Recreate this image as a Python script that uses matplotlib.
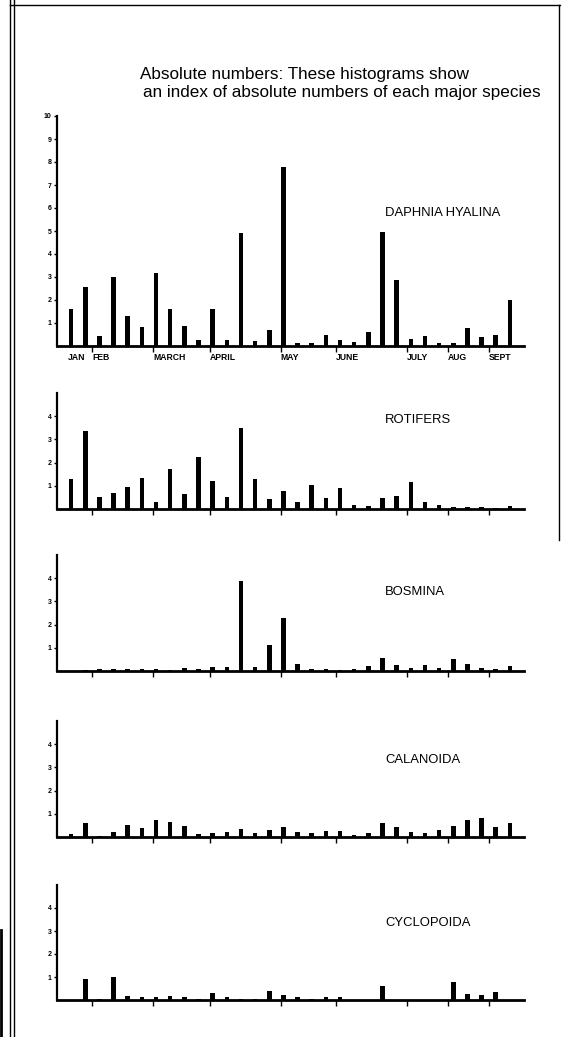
import numpy as np
import matplotlib.pyplot as plt
import matplotlib.transforms as mtransforms
from matplotlib.lines import Line2D

plt.rcParams['font.family'] = ['Liberation Sans', 'DejaVu Sans']

# Data: index of absolute numbers, one value per sampling date (32 samples Jan-Sept)
daphnia = [1.61, 2.58, 0.43, 3.0, 1.31, 0.81, 3.17, 1.6, 0.85, 0.27, 1.6, 0.27, 4.92, 0.23, 0.68, 7.8,
           0.13, 0.14, 0.49, 0.27, 0.17, 0.6, 4.95, 2.86, 0.3, 0.42, 0.13, 0.12, 0.78, 0.39, 0.49, 2.01]
rotifers = [1.31, 3.35, 0.5, 0.69, 0.96, 1.34, 0.32, 1.72, 0.66, 2.22, 1.22, 0.53, 3.5, 1.28, 0.43, 0.79,
            0.31, 1.03, 0.49, 0.9, 0.16, 0.15, 0.49, 0.56, 1.15, 0.3, 0.16, 0.09, 0.07, 0.07, 0.03, 0.15]
bosmina = [0.0, 0.05, 0.1, 0.1, 0.08, 0.1, 0.1, 0.05, 0.13, 0.1, 0.17, 0.17, 3.89, 0.19, 1.11, 2.27,
           0.29, 0.1, 0.1, 0.06, 0.1, 0.2, 0.55, 0.25, 0.15, 0.25, 0.12, 0.5, 0.32, 0.15, 0.1, 0.2]
calanoida = [0.14, 0.6, 0.03, 0.23, 0.52, 0.39, 0.72, 0.64, 0.49, 0.14, 0.17, 0.2, 0.33, 0.17, 0.32, 0.43,
             0.2, 0.17, 0.26, 0.28, 0.1, 0.17, 0.62, 0.43, 0.22, 0.17, 0.32, 0.46, 0.72, 0.84, 0.41, 0.61]
cyclopoida = [0.0, 0.93, 0.03, 0.99, 0.19, 0.12, 0.15, 0.19, 0.15, 0.03, 0.32, 0.12, 0.03, 0.03, 0.38, 0.2,
              0.15, 0.03, 0.12, 0.15, 0.0, 0.0, 0.59, 0.0, 0.0, 0.0, 0.0, 0.78, 0.26, 0.22, 0.34, 0.0]
species = ['DAPHNIA HYALINA', 'ROTIFERS', 'BOSMINA', 'CALANOIDA', 'CYCLOPOIDA']

months = ['JAN', 'FEB', 'MARCH', 'APRIL', 'MAY', 'JUNE', 'JULY', 'AUG', 'SEPT']
month_starts = [1.5, 5.8, 9.8, 14.8, 18.7, 23.7, 26.6, 29.5]   # tick positions, FEB..SEPT
jan_label = -0.2

series = [daphnia, rotifers, bosmina, calanoida, cyclopoida]
x = np.arange(len(daphnia))

W, H = 562, 1037
fig = plt.figure(figsize=(W / 100, H / 100), dpi=100)

# panel placement in pixels: (top, bottom)
panels = [(116, 346), (393, 509), (555, 671), (721, 837), (885, 1000)]
name_rows = [213, 420, 592, 760, 923]
left_px, right_px = 57, 524

for i, (vals, name, (top, bot)) in enumerate(zip(series, species, panels)):
    ax = fig.add_axes([left_px / W, 1 - bot / H, (right_px - left_px) / W, (bot - top) / H])
    ax.bar(x, vals, width=0.32, color='black')
    ymax = 10 if i == 0 else 5
    ax.set_ylim(0, ymax)
    ax.set_xlim(-1, 32)
    ax.set_yticks(range(1, 11) if i == 0 else range(1, 5))
    ax.tick_params(axis='y', direction='out', length=2, width=1, pad=2, labelsize=5)
    for lab in ax.get_yticklabels():
        lab.set_fontweight('bold')
    ax.set_xticks(month_starts)
    ax.set_xticklabels([])
    ax.tick_params(axis='x', direction='out', length=4, width=1)
    for s in ['top', 'right']:
        ax.spines[s].set_visible(False)
    ax.spines['left'].set_linewidth(1.6)
    ax.spines['bottom'].set_linewidth(2.0)

    # species name
    fig.text(385 / W, 1 - name_rows[i] / H, name, fontsize=9.4, ha='left', va='center')

    if i == 0:
        trans = mtransforms.blended_transform_factory(ax.transData, ax.transAxes)
        for m, xp in zip(months, [jan_label] + month_starts):
            ax.text(xp, -0.052, m, transform=trans, fontsize=6.2, fontweight='bold',
                    ha='left', va='center')

# title
fig.text(140 / W, 1 - 75 / H, 'Absolute numbers: These histograms show',
         fontsize=12.3, ha='left', va='center')
fig.text(143 / W, 1 - 92 / H, 'an index of absolute numbers of each major species',
         fontsize=12.3, ha='left', va='center')

# page frame from the scan
def fline(xs, ys, lw=1.0):
    fig.add_artist(Line2D([v / W for v in xs], [1 - v / H for v in ys], color='black', lw=lw))

fline([10, 10], [0, H])
fline([14, 14], [0, H])
fline([10, 560], [5, 5])
fline([559, 559], [5, 540])
fline([1, 1], [930, H], lw=2)

fig.savefig('out.png', dpi=100, facecolor='white')
